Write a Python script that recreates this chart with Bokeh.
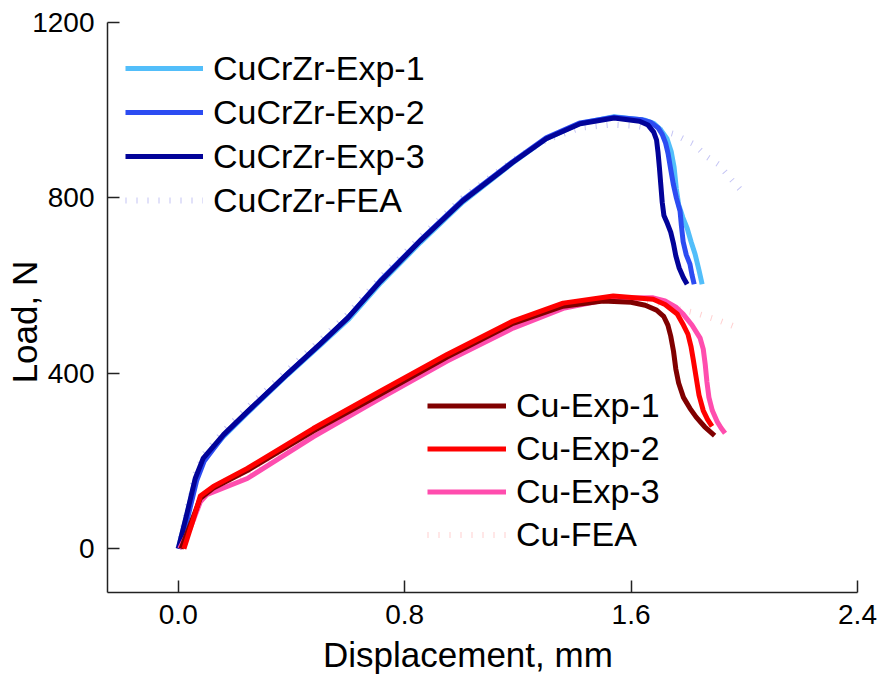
from bokeh.plotting import figure
from bokeh.models import Legend, LegendItem, Range1d, FixedTicker
from bokeh.embed import file_html
from bokeh.resources import INLINE

# ---- data ----
x_ticks = [0.0, 0.8, 1.6, 2.4]
x_tick_labels = ["0.0", "0.8", "1.6", "2.4"]
y_ticks = [0, 400, 800, 1200]
y_tick_labels = ["0", "400", "800", "1200"]

cucrzr_exp1_x = [0.0, 0.03, 0.06, 0.09, 0.16, 0.245, 0.385, 0.50, 0.60, 0.715, 0.855, 1.005, 1.18, 1.30, 1.42, 1.54, 1.65, 1.68, 1.705, 1.727, 1.742, 1.752, 1.76, 1.768, 1.783, 1.798, 1.812, 1.826, 1.84, 1.851]
cucrzr_exp1_y = [0, 76, 158, 203, 256, 310, 396, 463, 522, 606, 698, 790, 879, 935, 970, 985, 977, 970, 955, 935, 905, 870, 820, 785, 755, 731, 700, 672, 635, 603]

cucrzr_exp2_x = [0.005, 0.035, 0.065, 0.092, 0.16, 0.245, 0.385, 0.50, 0.60, 0.715, 0.855, 1.005, 1.18, 1.30, 1.42, 1.54, 1.64, 1.67, 1.695, 1.71, 1.722, 1.731, 1.74, 1.749, 1.76, 1.773, 1.778, 1.784, 1.795, 1.808, 1.815, 1.823]
cucrzr_exp2_y = [0, 75, 155, 200, 258, 312, 398, 466, 527, 612, 703, 795, 882, 937, 971, 984, 978, 972, 960, 945, 925, 900, 865, 832, 800, 770, 735, 700, 670, 649, 625, 603]

cucrzr_exp3_x = [0.0, 0.03, 0.06, 0.088, 0.16, 0.245, 0.385, 0.50, 0.60, 0.715, 0.855, 1.005, 1.18, 1.30, 1.42, 1.54, 1.63, 1.66, 1.68, 1.69, 1.695, 1.70, 1.705, 1.71, 1.716, 1.728, 1.74, 1.75, 1.758, 1.77, 1.785, 1.798]
cucrzr_exp3_y = [0, 78, 160, 206, 260, 313, 398, 466, 527, 610, 702, 793, 880, 935, 969, 982, 975, 966, 950, 932, 905, 870, 830, 790, 760, 742, 722, 695, 668, 640, 618, 603]

cucrzr_fea_x = [0.0, 0.06, 0.09, 0.16, 0.245, 0.385, 0.50, 0.60, 0.715, 0.855, 1.005, 1.18, 1.30, 1.42, 1.53, 1.62, 1.70, 1.75, 1.82, 1.87, 1.91, 1.95, 1.99]
cucrzr_fea_y = [0, 170, 214, 268, 322, 406, 474, 535, 618, 710, 800, 884, 932, 960, 967, 964, 955, 946, 923, 893, 876, 845, 816]

cu_exp1_x = [0.01, 0.04, 0.078, 0.124, 0.244, 0.477, 0.714, 0.95, 1.183, 1.36, 1.5, 1.6, 1.65, 1.69, 1.715, 1.73, 1.74, 1.75, 1.758, 1.768, 1.785, 1.808, 1.83, 1.86, 1.895]
cu_exp1_y = [0, 50, 115, 138, 178, 268, 352, 437, 514, 553, 565, 562, 555, 544, 530, 510, 485, 450, 410, 378, 345, 320, 300, 278, 258]

cu_exp2_x = [0.02, 0.05, 0.078, 0.124, 0.244, 0.477, 0.714, 0.95, 1.183, 1.36, 1.537, 1.678, 1.72, 1.763, 1.785, 1.801, 1.812, 1.82, 1.83, 1.84, 1.855, 1.87, 1.886]
cu_exp2_y = [0, 60, 120, 142, 183, 274, 359, 443, 519, 560, 576, 569, 557, 535, 510, 489, 460, 430, 390, 350, 315, 295, 279]

cu_exp3_x = [0.005, 0.042, 0.078, 0.10, 0.244, 0.477, 0.714, 0.95, 1.183, 1.36, 1.537, 1.678, 1.72, 1.76, 1.784, 1.815, 1.844, 1.855, 1.862, 1.868, 1.875, 1.887, 1.904, 1.918, 1.932]
cu_exp3_y = [0, 46, 107, 123, 160, 255, 343, 428, 503, 548, 571, 572, 565, 550, 535, 510, 480, 455, 420, 380, 345, 315, 290, 275, 263]

cu_fea_x = [0.0, 0.05, 0.08, 0.12, 0.244, 0.477, 0.714, 0.95, 1.183, 1.36, 1.5, 1.6, 1.7, 1.77, 1.83, 1.90, 1.98]
cu_fea_y = [0, 60, 112, 132, 170, 262, 350, 435, 510, 552, 565, 567, 560, 546, 537, 523, 503]

FONT = "Liberation Sans"
NBSP = "\u00a0"

p = figure(width=878, height=680, output_backend="svg", toolbar_location=None,
           x_range=Range1d(-0.25, 2.4), y_range=Range1d(-100, 1200),
           min_border_left=107, min_border_right=21, min_border_top=22, min_border_bottom=88)
p.outline_line_color = None
p.xgrid.visible = False
p.ygrid.visible = False
p.background_fill_color = "white"
p.border_fill_color = "white"

for ax in (p.xaxis[0], p.yaxis[0]):
    ax.major_tick_in = 12
    ax.major_tick_out = 0
    ax.minor_tick_line_color = None
    ax.axis_line_color = "#222222"
    ax.axis_line_width = 1.5
    ax.major_tick_line_color = "#222222"
    ax.major_tick_line_width = 1.5
    ax.major_label_text_font = FONT
    ax.major_label_text_font_size = "28px"
    ax.major_label_text_color = "black"
    ax.axis_label_text_font = FONT
    ax.axis_label_text_font_size = "35px"
    ax.axis_label_text_font_style = "normal"
    ax.axis_label_text_color = "black"

p.xaxis[0].ticker = FixedTicker(ticks=x_ticks)
p.xaxis[0].major_label_overrides = dict(zip(x_ticks, x_tick_labels))
p.yaxis[0].ticker = FixedTicker(ticks=y_ticks)
p.yaxis[0].major_label_overrides = dict(zip(y_ticks, y_tick_labels))
p.xaxis[0].major_label_standoff = 12
p.yaxis[0].major_label_standoff = 13
# trailing no-break spaces nudge the centred titles toward the start, as in the reference
p.xaxis[0].axis_label = "Displacement, mm" + NBSP * 3
p.yaxis[0].axis_label = "Load, N" + NBSP * 3
p.xaxis[0].axis_label_standoff = 8
p.yaxis[0].axis_label_standoff = -15

FEA_DASH = "1 10"
r_cf = p.line(cucrzr_fea_x, cucrzr_fea_y, line_color="#C4C4F4", line_width=6, line_dash=FEA_DASH, line_cap="butt")
r_uf = p.line(cu_fea_x, cu_fea_y, line_color="#FFD0D0", line_width=6, line_dash=FEA_DASH, line_cap="butt")

r_c1 = p.line(cucrzr_exp1_x, cucrzr_exp1_y, line_color="#52BEFA", line_width=5, line_join="round")
r_c2 = p.line(cucrzr_exp2_x, cucrzr_exp2_y, line_color="#2C4CF2", line_width=5, line_join="round")
r_c3 = p.line(cucrzr_exp3_x, cucrzr_exp3_y, line_color="#020399", line_width=5, line_join="round")

r_u3 = p.line(cu_exp3_x, cu_exp3_y, line_color="#FF4DAE", line_width=5, line_join="round")
r_u1 = p.line(cu_exp1_x, cu_exp1_y, line_color="#800000", line_width=5, line_join="round")
r_u2 = p.line(cu_exp2_x, cu_exp2_y, line_color="#FF0000", line_width=5, line_join="round")


def make_legend(items, loc, gw, gh):
    return Legend(items=items, location=loc, orientation="vertical",
                  glyph_width=gw, glyph_height=gh, label_height=gh,
                  label_standoff=10, spacing=0, padding=0, margin=0,
                  label_text_font=FONT, label_text_font_size="34px",
                  label_text_color="black",
                  background_fill_alpha=0, border_line_color=None)

leg1 = make_legend([
    LegendItem(label="CuCrZr-Exp-1", renderers=[r_c1]),
    LegendItem(label="CuCrZr-Exp-2", renderers=[r_c2]),
    LegendItem(label="CuCrZr-Exp-3", renderers=[r_c3]),
    LegendItem(label="CuCrZr-FEA", renderers=[r_cf]),
], (18, 370), 78, 44)

leg2 = make_legend([
    LegendItem(label="Cu-Exp-1", renderers=[r_u1]),
    LegendItem(label="Cu-Exp-2", renderers=[r_u2]),
    LegendItem(label="Cu-Exp-3", renderers=[r_u3]),
    LegendItem(label="Cu-FEA", renderers=[r_uf]),
], (320, 36), 79, 43)

p.add_layout(leg1)
p.add_layout(leg2)

open("out.html", "w").write(file_html(p, INLINE))
